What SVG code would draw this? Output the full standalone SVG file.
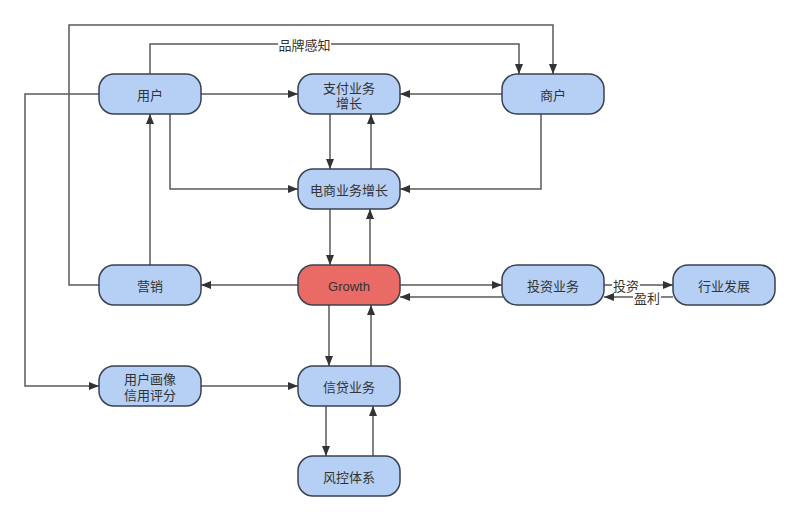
<svg xmlns="http://www.w3.org/2000/svg" width="800" height="521" viewBox="0 0 800 521">
<style>
.n rect{fill:#b6cff5;stroke:#3a4150;stroke-width:1.5}
.n.r rect{fill:#ea6b66}
.n text,.lbl{font-family:"Liberation Sans","Noto Sans CJK SC",sans-serif;font-size:13px;fill:#333;text-anchor:middle;dominant-baseline:central}
.e path{fill:none;stroke:#595959;stroke-width:1.5;marker-end:url(#ah)}
.lb{fill:#fff}
</style>
<defs>
<marker id="ah" viewBox="0 0 10 8" refX="10" refY="4" markerWidth="10" markerHeight="8" markerUnits="userSpaceOnUse" orient="auto">
<path d="M0,0 L10,4 L0,8 z" fill="#333"/>
</marker>
</defs>
<rect width="800" height="521" fill="#fff"/>
<g id="connectors" class="e">
<path d="M99,285 H69 V25 H553 V74"/>
<path d="M150,74 V44 H519 V74"/>
<path d="M201,94 H298"/>
<path d="M502,94 H400"/>
<path d="M170,114 V189 H298"/>
<path d="M541,114 V189 H400"/>
<path d="M330,114 V169"/>
<path d="M371,169 V114"/>
<path d="M330,209 V265"/>
<path d="M370,265 V209"/>
<path d="M298,285 H201"/>
<path d="M150,265 V114"/>
<path d="M99,94 H25 V386 H99"/>
<path d="M201,386 H298"/>
<path d="M329,305 V366"/>
<path d="M371,366 V305"/>
<path d="M326,406 V456"/>
<path d="M373,456 V406"/>
<path d="M400,285 H502"/>
<path d="M503,297 H400"/>
<path d="M604,285 H673"/>
<path d="M673,297 H604"/>
<rect class="lb" x="278" y="37" width="53" height="14"/>
<text class="lbl" x="304.5" y="45">品牌感知</text>
<rect class="lb" x="612" y="278" width="28" height="14"/>
<text class="lbl" x="626" y="286">投资</text>
<rect class="lb" x="633" y="290" width="28" height="14"/>
<text class="lbl" x="647" y="298">盈利</text>
</g>
<g id="n-user" class="n"><rect x="99" y="74" width="102" height="40" rx="15"/><text x="150" y="95.5">用户</text></g>
<g id="n-pay" class="n"><rect x="298" y="74" width="102" height="40" rx="15"/><text x="349" y="88">支付业务</text><text x="349" y="103">增长</text></g>
<g id="n-merchant" class="n"><rect x="502" y="74" width="102" height="40" rx="15"/><text x="553" y="95.5">商户</text></g>
<g id="n-ecom" class="n"><rect x="298" y="169" width="102" height="40" rx="15"/><text x="349" y="190.5">电商业务增长</text></g>
<g id="n-marketing" class="n"><rect x="99" y="265" width="102" height="40" rx="15"/><text x="150" y="286.5">营销</text></g>
<g id="n-growth" class="n r"><rect x="298" y="265" width="102" height="40" rx="15"/><text x="349" y="286.5">Growth</text></g>
<g id="n-invest" class="n"><rect x="502" y="265" width="102" height="40" rx="15"/><text x="553" y="286.5">投资业务</text></g>
<g id="n-industry" class="n"><rect x="673" y="265" width="102" height="40" rx="15"/><text x="724" y="286.5">行业发展</text></g>
<g id="n-profile" class="n"><rect x="99" y="366" width="102" height="40" rx="15"/><text x="150" y="379">用户画像</text><text x="150" y="395">信用评分</text></g>
<g id="n-credit" class="n"><rect x="298" y="366" width="102" height="40" rx="15"/><text x="349" y="387.5">信贷业务</text></g>
<g id="n-risk" class="n"><rect x="298" y="456" width="102" height="40" rx="15"/><text x="349" y="477.5">风控体系</text></g>
</svg>
